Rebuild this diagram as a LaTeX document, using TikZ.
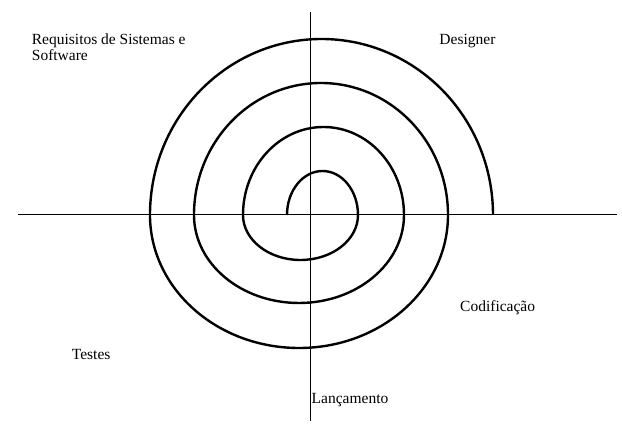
\documentclass[tikz,border=0pt]{standalone}
\usepackage{fontspec}
\setmainfont{Liberation Serif}
\begin{document}
\begin{tikzpicture}[x=1pt,y=1pt,
  axis/.style={line width=1pt},
  spiral/.style={line width=2.4pt},
  lbl/.style={inner sep=0pt,anchor=base west,font=\fontsize{15.5}{16.4}\selectfont}]

\useasboundingbox (-311,-210) rectangle (311,215);

\coordinate (axis-w) at (-293,0);
\coordinate (axis-e) at (306,0);
\coordinate (axis-n) at (0,203);
\coordinate (axis-s) at (0,-206);
\draw [axis]   (axis-w) -- (axis-e);
\draw [axis]   (axis-n) -- (axis-s);

\coordinate (spiral-start) at (-24,0);
\draw [spiral] (spiral-start)
  arc [start angle=180, end angle=0, x radius=35.5, y radius=44]
  arc [start angle=0, end angle=-180, x radius=57.5, y radius=45]
  arc [start angle=180, end angle=0, x radius=80.5, y radius=88]
  arc [start angle=0, end angle=-180, x radius=105, y radius=88]
  arc [start angle=180, end angle=0, x radius=127, y radius=132]
  arc [start angle=0, end angle=-180, x radius=149, y radius=133]
  arc [start angle=180, end angle=0, x radius=171.5, y radius=176];

\node [lbl] (lbl-requisitos) at (-279.3,170.7) {Requisitos de Sistemas e};
\node [lbl] (lbl-software) at (-279.3,154.3) {Software};
\node [lbl] (lbl-designer) at (128.3,170) {Designer};
\node [lbl] (lbl-codificacao) at (149,-96.7) {Codificação};
\node [lbl] (lbl-testes) at (-239.3,-144.3) {Testes};
\node [lbl] (lbl-lancamento) at (0.5,-188.3) {Lançamento};

%%%%%%%%%%%%%%%%%%%%%%%%%%%%%%%%%%%%%%%%%%%%%%%%%%%%%%%%%%%%%%%%%

\end{tikzpicture}
\end{document}
